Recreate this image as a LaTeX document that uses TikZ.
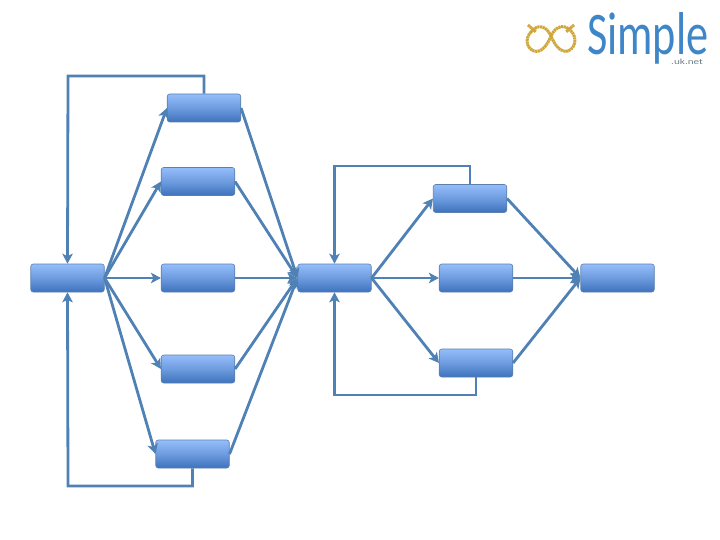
\documentclass[tikz,border=0pt]{standalone}
\usepackage{fontspec}
\setmainfont{Carlito}
\usetikzlibrary{arrows.meta,calc}
\definecolor{linec}{HTML}{4F81B5}
\definecolor{boxtop}{HTML}{95BDFB}
\definecolor{boxbot}{HTML}{3D72BC}
\definecolor{boxline}{HTML}{5A80AE}
\definecolor{gold}{HTML}{CFA63A}
\definecolor{logoblue}{HTML}{3F86C8}
\definecolor{logogrey}{HTML}{6F7F8A}
\tikzset{
  x=1pt,y=-1pt,
  procbox/.style={draw=boxline,line width=0.6pt,rounded corners=2.5pt,minimum width=73.5pt,minimum height=28pt,inner sep=0pt,top color=boxtop,bottom color=boxbot,middle color=boxtop!55!boxbot},
  conn/.style={draw=linec,line width=2.8pt,-{Stealth[length=10pt,width=10.5pt,inset=2.5pt]}},
  knot/.style={draw=gold,line width=3pt,line cap=butt,dash pattern=on 2.2pt off 0.5pt}
}
\begin{document}
\begin{tikzpicture}
\useasboundingbox (0,0) rectangle (720,540);
\node[procbox] (a) at (67.5,278) {};
\node[procbox] (b1) at (204,108) {};
\node[procbox] (b2) at (198,181.5) {};
\node[procbox] (b3) at (198,278) {};
\node[procbox] (b4) at (198,369) {};
\node[procbox] (b5) at (192.5,454) {};
\node[procbox] (c) at (334.5,278) {};
\node[procbox] (d1) at (470,198.5) {};
\node[procbox] (d2) at (476,278) {};
\node[procbox] (d3) at (476,363) {};
\node[procbox] (e) at (617.5,278) {};
\foreach \t in {b1,b2,b3,b4,b5}{
  \draw[conn] (a.east) -- (\t.west);
  \draw[conn] (\t.east) -- (c.west);
}
\foreach \t in {d1,d2,d3}{
  \draw[conn] (c.east) -- (\t.west);
  \draw[conn] (\t.east) -- (e.west);
}
\coordinate (l1a) at (204,76);
\coordinate (l1b) at (68,76);
\coordinate (l2a) at (192.5,486);
\coordinate (l2b) at (68,486);
\coordinate (l3a) at (470,166);
\coordinate (l3b) at (334.5,166);
\coordinate (l4a) at (476,395);
\coordinate (l4b) at (334.5,395);
\draw[conn] (b1.north) -- (l1a) -- (l1b) -- (a.north);
\draw[conn] (b5.south) -- (l2a) -- (l2b) -- (a.south);
\draw[conn] (d1.north) -- (l3a) -- (l3b) -- (c.north);
\draw[conn] (d3.south) -- (l4a) -- (l4b) -- (c.south);
% logo knot
\draw[knot]
  (531,32) .. controls (537,24) and (546,25) .. (551,36)
  .. controls (555,46) and (561,53) .. (568,51)
  .. controls (576,48) and (577,37) .. (571,31)
  .. controls (565,24) and (556,25) .. (551,36)
  .. controls (547,46) and (541,53) .. (534,51)
  .. controls (526,48) and (525,38) .. (531,32);
\draw[knot] (528,25) -- (536,32);
\draw[knot] (574,25) -- (566,32);
\node[inner sep=0pt,anchor=base west,text=logoblue,font=\fontsize{56}{56}\selectfont] (logo) at (587,55) {\scalebox{0.79}[1.08]{Simple}};
\node[inner sep=0pt,anchor=base west,text=logogrey,font=\fontsize{8}{8}\selectfont] (net) at (671,65) {\scalebox{1.4}[1]{.uk.net}};
\end{tikzpicture}
\end{document}
